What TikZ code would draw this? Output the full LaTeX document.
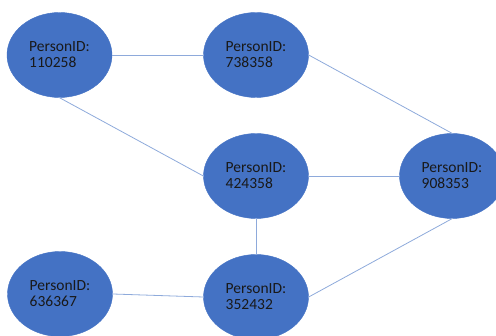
\documentclass[tikz,border=0pt]{standalone}
\usepackage{fontspec}
\setmainfont{Carlito}
\usetikzlibrary{shapes.geometric}
\definecolor{nodeblue}{HTML}{4472C4}
\definecolor{edgeblue}{HTML}{8EAADB}
\begin{document}
\begin{tikzpicture}[
  x=1pt, y=-1pt,
  pnode/.style={ellipse, fill=nodeblue, draw=nodeblue, minimum width=105pt, minimum height=85pt,
    inner sep=0pt, align=left, text=black!90,
    font=\fontsize{15.5}{16}\selectfont},
  link/.style={draw=edgeblue, line width=0.8pt}
]
  \useasboundingbox (0,0) rectangle (496,336);
  \node[pnode] (p110258) at (59.5,55) {PersonID:\\110258};
  \node[pnode] (p738358) at (256,55) {PersonID:\\738358};
  \node[pnode] (p424358) at (256,176) {PersonID:\\424358};
  \node[pnode] (p908353) at (452,176) {PersonID:\\908353};
  \node[pnode] (p636367) at (60,294) {PersonID:\\636367};
  \node[pnode] (p352432) at (256,297) {PersonID:\\352432};

  \draw[link] (p110258.east) -- (p738358.west);
  \draw[link] (p110258.south) -- (p424358.west);
  \draw[link] (p738358.east) -- (p908353.north);
  \draw[link] (p424358.east) -- (p908353.west);
  \draw[link] (p424358.south) -- (p352432.north);
  \draw[link] (p636367.east) -- (p352432.west);
  \draw[link] (p352432.east) -- (p908353.south);
\end{tikzpicture}
\end{document}
